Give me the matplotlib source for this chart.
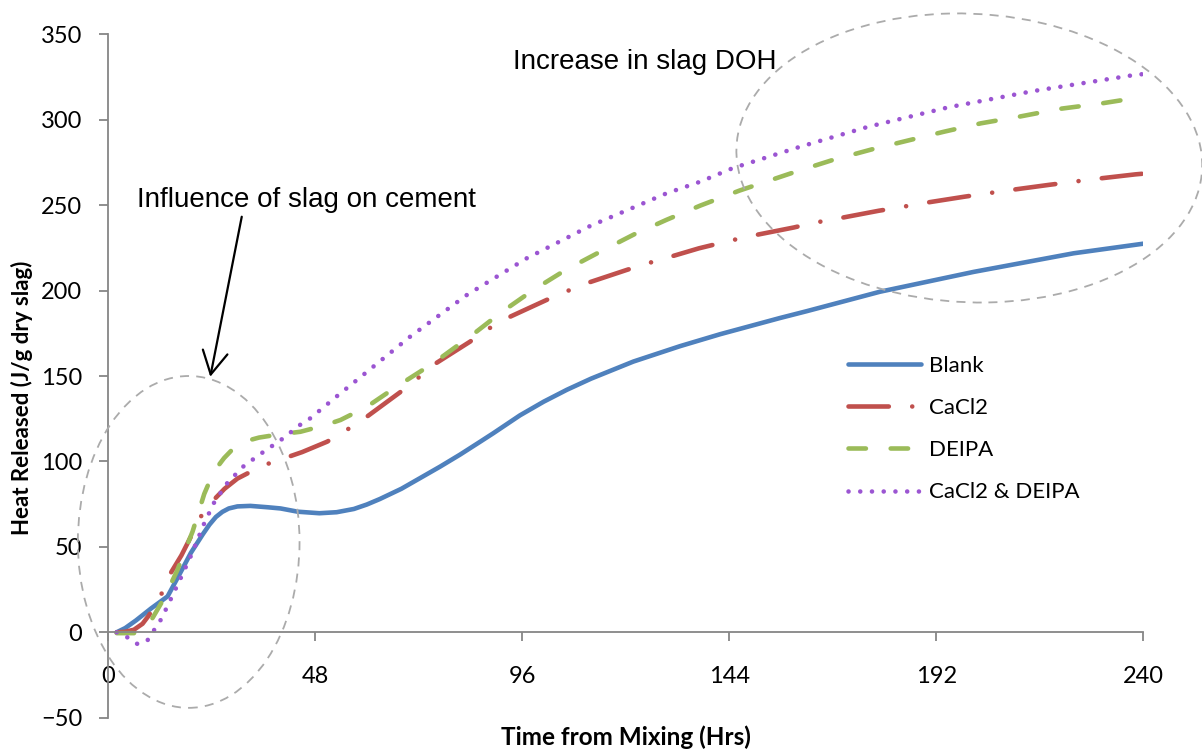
import matplotlib
matplotlib.use("Agg")
import matplotlib.pyplot as plt
from matplotlib.patches import Ellipse

# ── Data ───────────────────────────────────────────────────────────────────
blank_t = [2, 4, 6.5, 10, 13.8, 17, 19.2, 22, 23.5, 25, 26.5, 28, 30, 33, 37,
           40, 44, 49, 53, 57, 60, 63, 68, 72.3, 77, 81.6, 86.3, 89.3, 95.5,
           101, 106.4, 112, 121.8, 132.6, 141.9, 155.8, 162, 179, 200.7,
           223.9, 240]
blank_q = [0, 2.5, 7, 14, 21, 36, 46.5, 57.5, 63, 67.5, 70.5, 72.5, 73.7, 74,
           73.2, 72.5, 70.6, 69.7, 70.3, 72.2, 74.8, 78, 84, 90.2, 97, 104,
           111.6, 116.5, 127, 135, 142, 148.5, 158.5, 167.5, 174.5, 184, 188,
           199.4, 211, 221.9, 227.5]

cacl2_t = [2, 4, 6, 8, 9.5, 12.3, 14.6, 17, 19.2, 21.5, 24.5, 27, 30, 32.3,
           36.9, 41.9, 45, 50.8, 55.3, 60, 67.7, 71.6, 75.4, 83.9, 88, 92.4,
           101.7, 106.1, 110.9, 120.2, 125.1, 129.9, 137, 144.3, 149, 159,
           163.8, 168.7, 178.7, 183.6, 188.4, 198.5, 203.4, 208.3, 218.3,
           223.3, 228.2, 238.2, 240]
cacl2_q = [0, 0.3, 1.5, 5, 10, 22, 35, 45, 56, 67.7, 77.5, 84, 90, 93, 98.5,
           102.8, 105.5, 111.6, 118.4, 126.2, 140.5, 148.3, 156.5, 170.1,
           177.4, 183.8, 194.6, 199.4, 204.3, 212.1, 216, 219.5, 224.8, 229.3,
           232, 237, 239.8, 242, 246.8, 248.8, 251, 255, 256.8, 258.6, 262,
           263.6, 265.2, 268.1, 268.5]

deipa_t = [2, 4, 6, 8, 10, 13, 16, 19.6, 22.3, 24.5, 26.9, 29, 31.5, 35, 40,
           44.6, 50, 53.9, 60, 67, 75.4, 84.7, 91, 98.6, 106, 114.1, 122,
           129.5, 137.3, 146.4, 159.5, 168, 177.2, 193.7, 202.4, 211.5, 220.8,
           230, 240]
deipa_q = [-0.5, -0.5, -0.5, 1, 7, 20, 36, 59, 81, 94, 102, 107.5, 111.6, 114,
           116, 117.4, 121, 124.3, 132, 144, 157.5, 174.6, 187, 200.4, 212,
           222.8, 233, 241.5, 249.8, 258.6, 269.7, 276.5, 282.8, 293, 298,
           302, 306.5, 309.5, 313.5]

both_t = [2, 4.5, 6.9, 9.2, 10.7, 12.3, 14.6, 16.9, 19.2, 22.3, 24.6, 27.7,
          31.5, 35.8, 40.4, 44.5, 46.9, 53.1, 57.7, 70, 83.2, 97.1, 111.8,
          129.5, 137.3, 144.8, 160.5, 176.3, 194.9, 214.6, 238, 240]
both_q = [0, -3, -7, -4.5, 1.4, 7.6, 19.7, 32, 44.7, 63.8, 76, 87.6, 97.4,
          105.2, 113.2, 121.4, 125.3, 138.3, 147.7, 173, 197.5, 219, 237.9,
          257, 263.8, 271.7, 284.3, 296, 307.4, 316.9, 326.3, 326.8]

series_labels = ["Blank", "CaCl2", "DEIPA", "CaCl2 & DEIPA"]
x_ticks = [0, 48, 96, 144, 192, 240]
y_ticks = [-50, 0, 50, 100, 150, 200, 250, 300, 350]

# ── Style ──────────────────────────────────────────────────────────────────
TICK_FONT = "Lato"
NOTE_FONT = "Liberation Sans"
AXIS_GREY = "#868686"
LW = 3.3

styles = [
    dict(color="#4F81BD", linestyle="-"),
    dict(color="#C0504D", linestyle=(0, (8.8, 5.1, 0.01, 5.1))),
    dict(color="#9BBB59", linestyle=(0, (3.8, 5.4))),
    dict(color="#9B55D2", linestyle=(0, (0.01, 2.55))),
]

fig = plt.figure(figsize=(12.02, 7.53), dpi=100)
ax = fig.add_axes([0.0899, 0.0469, 0.8611, 0.9073])

for (t, q), label, st in zip(
    [(blank_t, blank_q), (cacl2_t, cacl2_q), (deipa_t, deipa_q), (both_t, both_q)],
    series_labels, styles,
):
    ax.plot(t, q, label=label, lw=LW, solid_capstyle="round",
            dash_capstyle="round", solid_joinstyle="round", **st)

ax.set_xlim(0, 240)
ax.set_ylim(-50, 350)
ax.set_xticks(x_ticks)
ax.set_yticks(y_ticks)

for side in ("top", "right"):
    ax.spines[side].set_visible(False)
ax.spines["bottom"].set_position(("data", 0))
for side in ("left", "bottom"):
    ax.spines[side].set_color(AXIS_GREY)
    ax.spines[side].set_linewidth(1.3)

ax.tick_params(axis="both", direction="out", length=6.5, width=1.3,
               color=AXIS_GREY, labelsize=17)
ax.tick_params(axis="x", pad=18)
ax.tick_params(axis="y", pad=12)
for lab in ax.get_xticklabels() + ax.get_yticklabels():
    lab.set_fontfamily(TICK_FONT)

fig.text(22 / 1202, 1 - 398 / 753, "Heat Released (J/g dry slag)",
         rotation=90, ha="center", va="center", fontsize=16,
         fontweight="bold", family=TICK_FONT)
fig.text(626 / 1202, 1 - 737 / 753, "Time from Mixing (Hrs)",
         ha="center", va="center", fontsize=17.5, fontweight="bold",
         family=TICK_FONT)

leg = ax.legend(loc="center left", bbox_to_anchor=(848 / 1202, 1 - 429 / 753),
                bbox_transform=fig.transFigure, frameon=False,
                prop={"family": TICK_FONT, "size": 16},
                handlelength=3.3, handletextpad=0.35, labelspacing=1.0,
                borderpad=0, borderaxespad=0)

# ── Annotation shapes ─────────────────────────────────────────────────────
ax.add_patch(Ellipse((18.7, 52.9), 51.4, 194.3, fill=False,
                     edgecolor="#ABABAB", lw=1.3, linestyle=(0, (5, 4)),
                     clip_on=False, zorder=5))
ax.add_patch(Ellipse((199.7, 277.7), 107.8, 169.4, angle=3, fill=False,
                     edgecolor="#ABABAB", lw=1.3, linestyle=(0, (5, 4)),
                     clip_on=False, zorder=5))

ax.text(124.5, 333.9, "Increase in slag DOH", ha="center", va="center",
        fontsize=20, family=NOTE_FONT)
ax.text(45.9, 253.1, "Influence of slag on cement", ha="center", va="center",
        fontsize=20, family=NOTE_FONT)
ax.annotate("", xy=(23.7, 149.6), xytext=(31, 243.3),
            arrowprops=dict(arrowstyle="->,head_length=0.55,head_width=0.3",
                            lw=1.6, color="black", mutation_scale=30,
                            shrinkA=0, shrinkB=0))

fig.savefig("out.png", dpi=100)
